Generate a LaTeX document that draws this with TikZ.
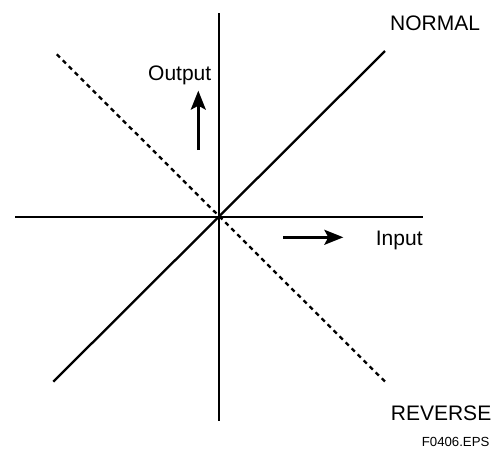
\documentclass[tikz,border=0pt]{standalone}
\usepackage{fontspec}
\setmainfont{Liberation Sans}
\usetikzlibrary{arrows.meta}
\begin{document}
\begin{tikzpicture}[x=1pt,y=-1pt,
  axis/.style={line width=2.3pt},
  dashline/.style={line width=2.3pt,dash pattern=on 4.5pt off 4pt},
  arr/.style={line width=2.4pt,-{Stealth[length=19pt,width=15pt,inset=4pt]}},
  lbl/.style={inner sep=0pt,anchor=base west,font=\fontsize{21}{24}\selectfont},
  small/.style={inner sep=0pt,anchor=base west,font=\fontsize{13.2}{15}\selectfont}]
\useasboundingbox (0,0) rectangle (501,448);
\coordinate (vt) at (219.3,13);
\coordinate (vb) at (219.3,421);
\coordinate (hl) at (15,216.7);
\coordinate (hr) at (423,216.7);
\coordinate (nl) at (53.3,381.7);
\coordinate (nr) at (385,51);
\coordinate (rl) at (56.7,54.3);
\coordinate (rr) at (385.7,382.3);
\coordinate (oa) at (198.3,150);
\coordinate (ob) at (198.3,90.7);
\coordinate (ia) at (283.3,237.3);
\coordinate (ib) at (343.3,237.3);
\draw[axis] (vt) -- (vb);
\draw[axis] (hl) -- (hr);
\draw[axis] (nl) -- (nr);
\draw[dashline] (rl) -- (rr);
\draw[arr] (oa) -- (ob);
\draw[arr] (ia) -- (ib);
\node[lbl] (normal) at (390,30.7) {NORMAL};
\node[lbl] (reverse) at (390.7,420.7) {REVERSE};
\node[lbl] (output) at (148,80) {Output};
\node[lbl] (input) at (375.7,245) {Input};
\node[small] (fig) at (421.7,446.5) {F0406.EPS};
\end{tikzpicture}
\end{document}
